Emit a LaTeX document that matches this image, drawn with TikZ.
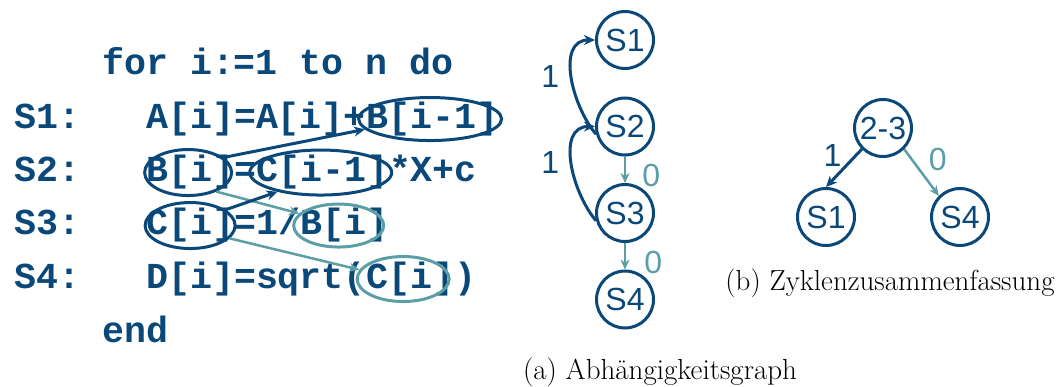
\documentclass[tikz,border=0pt]{standalone}
\usepackage{fontspec}
\setsansfont{Liberation Sans}
\newfontfamily\codefont{Liberation Mono}
\usepackage{xcolor}
\usepackage{tikz}
\usetikzlibrary{shapes.geometric, arrows.meta, positioning}
\definecolor{uniblue}{RGB}{11,72,122}
\definecolor{uniteal}{RGB}{92,158,166}
\tikzstyle{code} = [inner sep=0pt, anchor=base west, text=uniblue, font=\codefont\bfseries\fontsize{36.6}{40}\selectfont]
\tikzstyle{hldark} = [ellipse, draw=uniblue, line width=3pt, inner sep=0pt]
\tikzstyle{hlteal} = [ellipse, draw=uniteal, line width=3pt, inner sep=0pt]
\tikzstyle{stmt} = [circle, draw=uniblue, line width=3pt, minimum size=57pt, inner sep=1pt, text=uniblue, font=\sffamily\fontsize{32}{34}\selectfont]
\tikzstyle{weight} = [inner sep=0pt, font=\sffamily\fontsize{32}{34}\selectfont]
\tikzstyle{deparrow} = [line width=3pt, -{Stealth[length=11pt,width=10pt]}, color=uniblue]
\tikzstyle{indarrow} = [line width=2.5pt, -{Stealth[length=10pt,width=9pt]}, color=uniteal]
\tikzstyle{caption} = [font=\fontsize{29}{32}\selectfont]

\begin{document}
\begin{tikzpicture}[x=1pt, y=1pt, node distance=26.5pt]
    \useasboundingbox (0,0) rectangle (1059,-387);

    % loop code
    \node (head) [code] at (102,-75) {for i:=1 to n do};
    \node (l1) [code] at (14,-128.5) {S1:};
    \node (a1) [code] at (146,-128.5) {A[i]=A[i]+};
    \node (b1) [code] at (a1.base east) {B[i-1]};
    \node (l2) [code] at (14,-182) {S2:};
    \node (b2) [code] at (146,-182) {B[i]};
    \node (eq2) [code] at (b2.base east) {=};
    \node (c2) [code] at (eq2.base east) {C[i-1]};
    \node (r2) [code] at (c2.base east) {*X+c};
    \node (l3) [code] at (14,-235) {S3:};
    \node (c3) [code] at (146,-235) {C[i]};
    \node (d3) [code] at (c3.base east) {=1/};
    \node (b3) [code] at (d3.base east) {B[i]};
    \node (l4) [code] at (14,-288.5) {S4:};
    \node (d4) [code] at (146,-288.5) {D[i]=sqrt(};
    \node (c4) [code] at (d4.base east) {C[i]};
    \node (r4) [code] at (c4.base east) {)};
    \node (tail) [code] at (102,-342) {end};

    \node (eb1) [hldark, minimum width=143pt, minimum height=43pt, xshift=-2pt] at (b1.center) {};
    \node (eb2) [hldark, minimum width=87pt, minimum height=46pt, xshift=-2pt] at (b2.center) {};
    \node (ec2) [hldark, minimum width=142pt, minimum height=45pt, xshift=-2pt] at (c2.center) {};
    \node (ec3) [hldark, minimum width=90pt, minimum height=46pt] at (c3.center) {};
    \node (eb3) [hlteal, minimum width=90pt, minimum height=43pt, xshift=-6pt] at (b3.center) {};
    \node (ec4) [hlteal, minimum width=92pt, minimum height=45pt, xshift=-7pt] at (c4.center) {};

    \draw [deparrow] (eb2.23) -- (eb1.189);
    \draw [indarrow] (eb2.326) -- (eb3.163);
    \draw [deparrow] (ec3.24) -- (ec2.204);
    \draw [indarrow] (ec3.342) -- (ec4.168);

    % (a) dependence graph
    \node (s1) [stmt] at (625,-40) {S1};
    \node (s2) [stmt, below=of s1] {S2};
    \node (s3) [stmt, below=of s2] {S3};
    \node (s4) [stmt, below=of s3] {S4};

    \draw [deparrow] (s2.195) to [out=130, in=180, looseness=1.05] node [weight, left=11pt] {1} (s1.180);
    \draw [deparrow] (s3.195) to [out=130, in=180, looseness=1.05] node [weight, left=11pt] {1} (s2.180);
    \draw [indarrow] (s2) -- node [weight, right=16pt, yshift=-6pt] {0} (s3);
    \draw [indarrow] (s3) -- node [weight, right=18pt, yshift=-6pt] {0} (s4);

    \node (capa) [caption] at (660,-372) {(a) Abhängigkeitsgraph};

    % (b) condensed cycles
    \node (n23) [stmt] at (883,-128) {2-3};
    \node (t1) [stmt] at (826,-217) {S1};
    \node (t4) [stmt] at (960,-217) {S4};

    \draw [deparrow] (n23.225) -- node [weight, above left=0pt and 1pt] {1} (t1.north);
    \draw [indarrow] (n23.315) -- node [weight, above right=0pt and 6pt] {0} (t4.135);

    \node (capb) [caption] at (890,-283) {(b) Zyklenzusammenfassung};
\end{tikzpicture}
\end{document}
